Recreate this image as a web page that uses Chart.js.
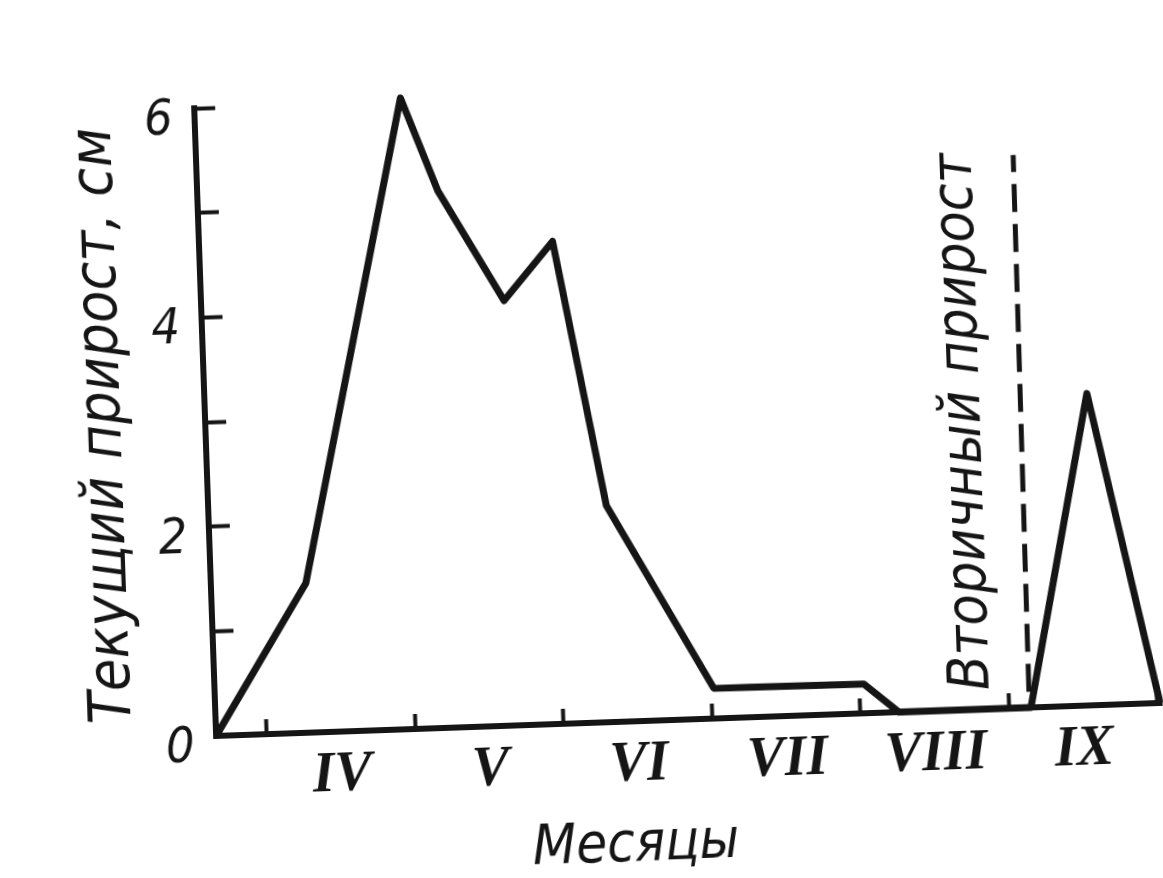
<!DOCTYPE html>
<html>
<head>
<meta charset="utf-8">
<script src="https://cdn.jsdelivr.net/npm/chart.js@4.4.0/dist/chart.umd.min.js"></script>
<style>
  html, body { margin: 0; padding: 0; background: #ffffff; overflow: hidden; }
  #wrap { width: 1163px; height: 878px; position: relative; background: #ffffff; }
  #c { display: block; transform: rotate(-2deg); transform-origin: 50% 50%; }
</style>
</head>
<body>
<div id="wrap"><canvas id="c" width="1163" height="878"></canvas></div>
<script>
// ---- data (x in months, April start = 0) ----
const monthPos  = [-0.34, 0.30, 1.05, 1.28, 1.70, 2.04, 2.34, 3.02, 4.03, 4.26, 5.15, 5.60, 6.02];
const growthCm  = [0,     1.43, 6.03, 5.13, 4.06, 4.61, 2.07, 0.29, 0.28, 0,    0,    2.98, 0];
const secondaryMarkX = [5.14, 5.16];
const secondaryMarkY = [0.15, 5.28];
const monthTickPos = [0.5, 1.5, 2.5, 3.5, 4.5, 5.5];
const monthLabels  = ['IV', 'V', 'VI', 'VII', 'VIII', 'IX'];
const yTickValues  = [0, 1, 2, 3, 4, 5, 6];
const yTickLabels  = ['0', '', '2', '', '4', '', '6'];
const yTitle = 'Текущий прирост, см';
const xTitle = 'Месяцы';
const secondaryTitle = 'Вторичный прирост';

const INK = '#151515';
const SANS = '"DejaVu Sans Condensed", "DejaVu Sans", sans-serif';
const SERIF = '"Liberation Serif", "DejaVu Serif", serif';

const textPlugin = {
  id: 'textPlugin',
  afterDraw(chart) {
    const { ctx, chartArea } = chart;
    const xs = chart.scales.x, ys = chart.scales.y;
    ctx.save();
    ctx.fillStyle = INK;
    ctx.textAlign = 'center';
    ctx.textBaseline = 'middle';
    ctx.font = 'italic 56px ' + SANS;
    ctx.fillText(xTitle, xs.getPixelForValue(2.46), chartArea.bottom + 124);
    ctx.font = 'italic 57px ' + SANS;
    ctx.translate(xs.getPixelForValue(4.77), ys.getPixelForValue(2.75));
    ctx.rotate(-Math.PI / 2);
    ctx.fillText(secondaryTitle, 0, 0);
    ctx.restore();
  }
};

new Chart(document.getElementById('c'), {
  type: 'line',
  data: {
    datasets: [
      {
        data: monthPos.map((m, i) => ({ x: m, y: growthCm[i] })),
        borderColor: INK,
        borderWidth: 7,
        pointRadius: 0,
        tension: 0,
        fill: false,
        borderJoinStyle: 'round',
        clip: false
      },
      {
        data: secondaryMarkX.map((m, i) => ({ x: m, y: secondaryMarkY[i] })),
        borderColor: INK,
        borderWidth: 5,
        borderDash: [28, 12],
        pointRadius: 0,
        fill: false,
        clip: false
      }
    ]
  },
  options: {
    responsive: false,
    animation: false,
    events: [],
    layout: { padding: { top: 95, right: 11, left: 0, bottom: 0 } },
    plugins: { legend: { display: false }, tooltip: { enabled: false } },
    scales: {
      x: {
        type: 'linear',
        min: -0.34,
        max: 6.03,
        afterBuildTicks(s) { s.ticks = monthTickPos.map(v => ({ value: v })); },
        afterFit(s) { s.height = 155; },
        grid: { offset: true, drawOnChartArea: false, drawTicks: true, tickLength: -15, tickWidth: 4, tickColor: INK, color: INK },
        border: { display: true, color: INK, width: 6 },
        ticks: {
          color: INK,
          autoSkip: false,
          maxRotation: 0,
          padding: 26,
          font: { family: SERIF, size: 56, style: 'italic', weight: 'bold' },
          callback: (v, i) => monthLabels[i]
        }
      },
      y: {
        type: 'linear',
        min: 0,
        max: 6,
        afterBuildTicks(s) { s.ticks = yTickValues.map(v => ({ value: v })); },
        afterFit(s) { s.width = 206; },
        grid: { drawOnChartArea: false, drawTicks: true, tickLength: -21, tickWidth: 4, tickColor: INK, color: INK },
        border: { display: true, color: INK, width: 6 },
        ticks: {
          color: INK,
          padding: 43,
          labelOffset: 12,
          font: { family: SANS, size: 50, style: 'italic' },
          callback: (v, i) => yTickLabels[i]
        },
        title: {
          display: true,
          text: yTitle,
          color: INK,
          font: { family: SANS, size: 59, style: 'italic' },
          padding: { top: 70, bottom: 0 }
        }
      }
    }
  },
  plugins: [textPlugin]
});
</script>
</body>
</html>
